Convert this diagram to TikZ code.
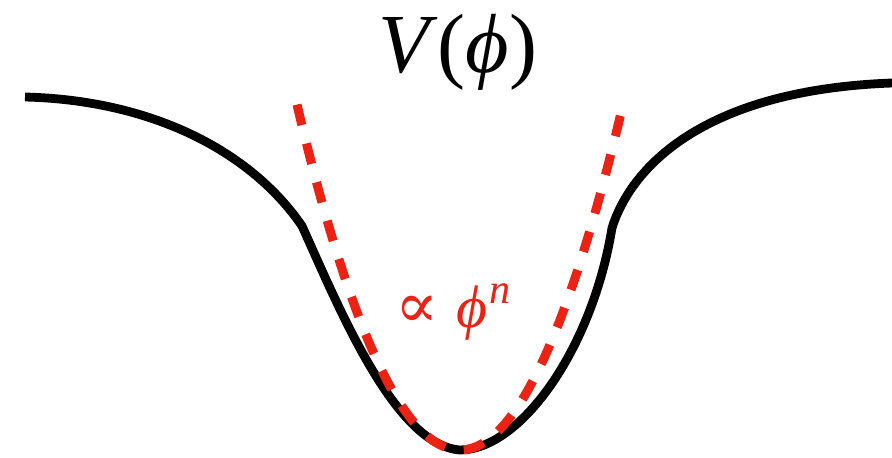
\documentclass[tikz,border=0pt]{standalone}
\usepackage{fontspec}
\setmainfont{Liberation Serif}
\newfontfamily\propfont{DejaVu Serif}
\definecolor{fitred}{RGB}{236,34,20}
\tikzset{
  potential/.style={line width=8.8pt, black, line join=round},
  fitcurve/.style={line width=9pt, fitred, dash pattern=on 21pt off 19pt},
  biglabel/.style={inner sep=0pt, anchor=base, font=\fontsize{84}{84}\selectfont},
  fitlabel/.style={inner sep=0pt, anchor=base west, text=fitred, font=\fontsize{60}{60}\selectfont}
}
\begin{document}
\begin{tikzpicture}[x=1pt,y=-1pt]
\useasboundingbox (0,0) rectangle (892,458);
\fill[white] (0,0) rectangle (892,458);
% potential
\coordinate (L) at (25,97);
\coordinate (KL) at (302,226);
\coordinate (B) at (460,450);
\coordinate (KR) at (612,228);
\coordinate (R) at (892,83);
\draw[potential] (L) .. controls (150,100) and (250,150) .. (KL)
  .. controls (340,310) and (395,445) .. (B)
  .. controls (520,450) and (592,350) .. (KR)
  .. controls (630,170) and (700,90) .. (R);
% power law fit
\draw[fitcurve] plot[domain=-1.63:1.63, samples=80, smooth] ({460+100*\x},{450-130*\x*\x});
\node[biglabel] (V) at (458,72) {\textit{V}(\textit{ϕ})};
\node[fitlabel] (fit) at (395,327) {{\propfont\fontsize{64}{64}\selectfont ∝}\hspace{0.3em}\textit{ϕ}\hspace{0.03em}\raisebox{24pt}{\fontsize{42}{42}\selectfont\textit{n}}};
\end{tikzpicture}
\end{document}
